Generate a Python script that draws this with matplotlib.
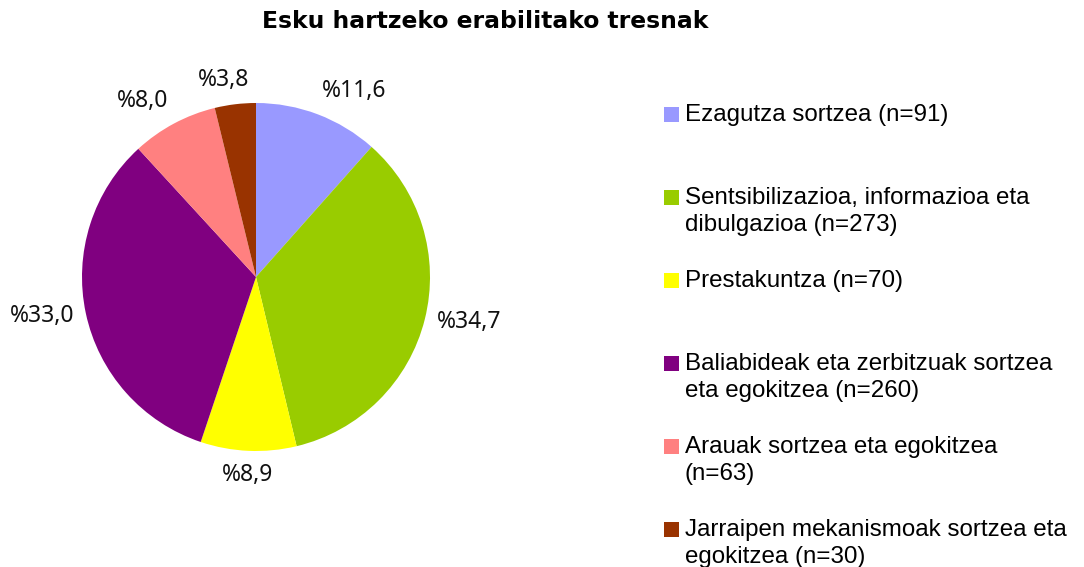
import matplotlib
matplotlib.use("Agg")
import matplotlib.pyplot as plt
import numpy as np
from matplotlib.patches import Rectangle

title = "Esku hartzeko erabilitako tresnak"
categories = [
    "Ezagutza sortzea (n=91)",
    "Sentsibilizazioa, informazioa eta\ndibulgazioa (n=273)",
    "Prestakuntza (n=70)",
    "Baliabideak eta zerbitzuak sortzea\neta egokitzea (n=260)",
    "Arauak sortzea eta egokitzea\n(n=63)",
    "Jarraipen mekanismoak sortzea eta\negokitzea (n=30)",
]
counts = [91, 273, 70, 260, 63, 30]
colors = ["#9999FF", "#99CC00", "#FFFF00", "#800080", "#FF8080", "#993300"]

W, H = 1084, 567
fig = plt.figure(figsize=(W / 100, H / 100), dpi=100)

# pie axes: centre ~ (256, 277) px, radius ~174 px
r_px = 174
cx, cy = 256, 277
ax = fig.add_axes([(cx - r_px) / W, (H - cy - r_px) / H, 2 * r_px / W, 2 * r_px / H])
wedges, _ = ax.pie(counts, colors=colors, startangle=90, counterclock=False,
                   radius=1, wedgeprops=dict(linewidth=0))
ax.set_xlim(-1, 1)
ax.set_ylim(-1, 1)
ax.set_aspect("equal")
ax.axis("off")

total = sum(counts)
for w, n in zip(wedges, counts):
    ang = np.deg2rad((w.theta1 + w.theta2) / 2)
    x, y = np.cos(ang), np.sin(ang)
    d = 1.07
    ha = "center" if abs(x) < 0.15 else ("left" if x > 0 else "right")
    va = "center" if abs(y) < 0.5 else ("bottom" if y > 0 else "top")
    pct = f"%{100 * n / total:.1f}".replace(".", ",")
    ax.text(d * x - (0.06 if ha == "center" and y > 0 else 0), d * y, pct,
            ha=ha, va=va, fontsize=16.5,
            family="Noto Sans", color="#111111", clip_on=False)

fig.text(485.5 / W, 1 - 22 / H, title, ha="center", va="center",
         fontsize=16.9, fontweight="bold", family="DejaVu Sans")

# legend, drawn by hand to follow the reference spacing
for i, (lab, c) in enumerate(zip(categories, colors)):
    y0 = 114 + 83 * i
    fig.patches.append(Rectangle((664 / W, 1 - (y0 + 8) / H), 15 / W, 15 / H,
                                 transform=fig.transFigure, facecolor=c,
                                 edgecolor="none"))
    for k, line in enumerate(lab.split("\n")):
        fig.text(685 / W, 1 - (y0 + 7 + 27 * k) / H, line, ha="left",
                 va="baseline", fontsize=17.4, family="Liberation Sans")

fig.savefig("out.png", dpi=100)
